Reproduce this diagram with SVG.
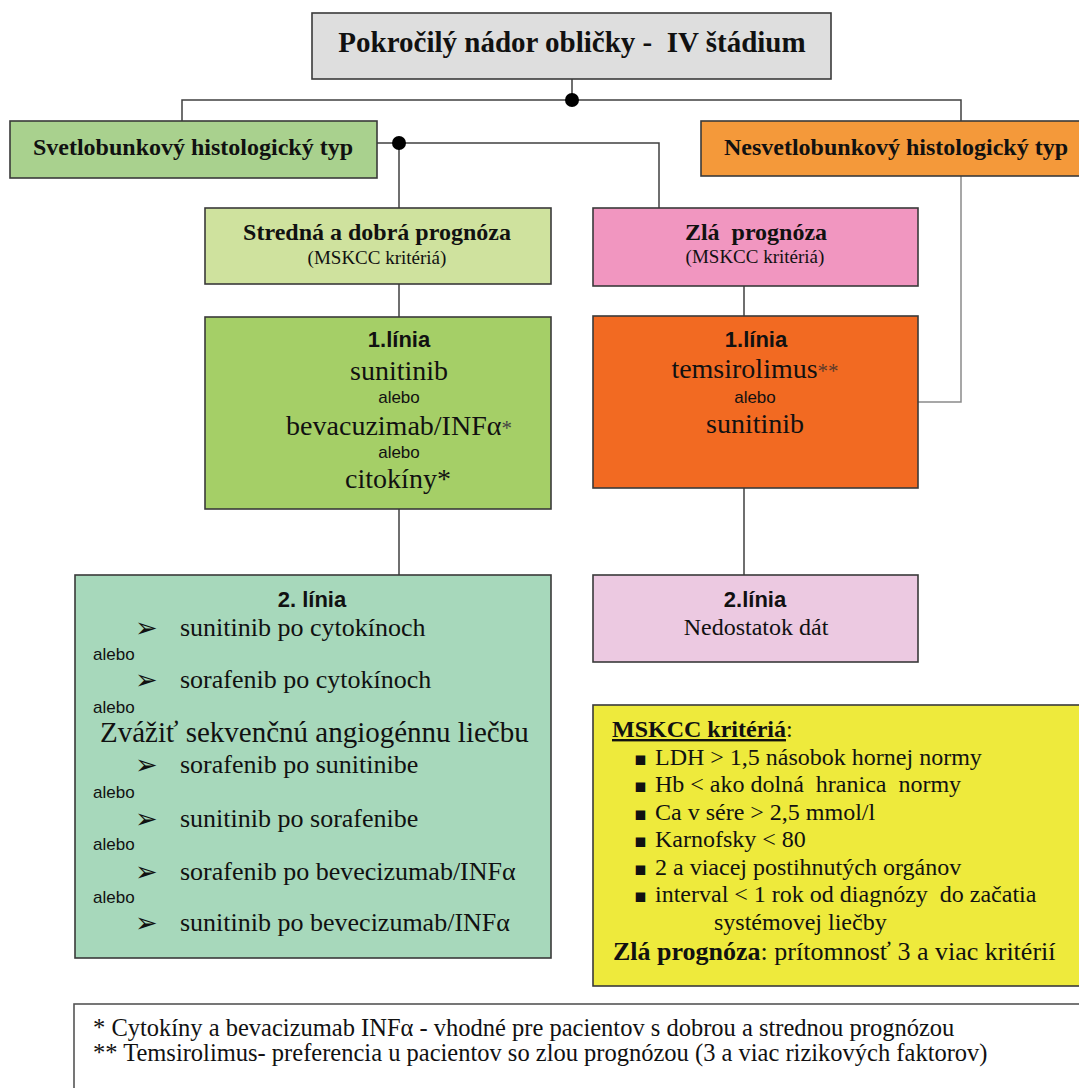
<svg xmlns="http://www.w3.org/2000/svg" width="1079" height="1088" viewBox="0 0 1079 1088">
<style>
.box{stroke:#3a3a3a;stroke-width:1.6}
.ln{fill:none;stroke:#404040;stroke-width:1.5}
.lg{fill:none;stroke:#8a8a8a;stroke-width:1.5}
.s{font-family:"Liberation Serif","Times New Roman","DejaVu Serif",serif;fill:#111}
.sb{font-family:"Liberation Serif","Times New Roman","DejaVu Serif",serif;font-weight:bold;fill:#111}
.a{font-family:"Liberation Sans",Arial,sans-serif;fill:#111}
.ab{font-family:"Liberation Sans",Arial,sans-serif;font-weight:bold;fill:#111}
.sym{font-family:"DejaVu Sans",sans-serif;fill:#111}
.c{text-anchor:middle}
</style>
<rect width="1079" height="1088" fill="#ffffff"/>
<g id="connectors">
<path class="ln" d="M572 79V100M182 121V100H961V121"/>
<circle cx="572" cy="100" r="7" fill="#000"/>
<path class="ln" d="M377 143H659V208M399 143V208"/>
<circle cx="399" cy="143" r="7" fill="#000"/>
<path class="ln" d="M399 284V317M399 509V575"/>
<path class="ln" d="M744 286V316M744 488V575"/>
<path class="lg" d="M961 176V402H918"/>
</g>
<g id="node-top">
<rect class="box" x="312" y="13" width="519" height="66" fill="#dedede"/>
<text class="sb c" x="572" y="52" font-size="29" xml:space="preserve">Pokročilý nádor obličky -  IV štádium</text>
</g>
<g id="node-svetlo">
<rect class="box" x="10" y="121" width="367" height="57" fill="#a9d18e"/>
<text class="sb c" x="193" y="155" font-size="24">Svetlobunkový histologický typ</text>
</g>
<g id="node-nesvetlo">
<rect class="box" x="701" y="121" width="384" height="55" fill="#f4993a"/>
<text class="sb c" x="896" y="155" font-size="24">Nesvetlobunkový histologický typ</text>
</g>
<g id="node-stredna">
<rect class="box" x="205" y="208" width="346" height="76" fill="#cfe29e"/>
<text class="sb c" x="377" y="240" font-size="24">Stredná a dobrá prognóza</text>
<text class="s c" x="377" y="264" font-size="19">(MSKCC kritériá)</text>
</g>
<g id="node-zla">
<rect class="box" x="593" y="208" width="325" height="78" fill="#f196c0"/>
<text class="sb c" x="756" y="240" font-size="24" xml:space="preserve">Zlá  prognóza</text>
<text class="s c" x="755" y="263" font-size="19">(MSKCC kritériá)</text>
</g>
<g id="node-linia1-green">
<rect class="box" x="205" y="317" width="346" height="192" fill="#a5cf67"/>
<text class="ab c" x="399" y="347" font-size="22">1.línia</text>
<text class="s c" x="399" y="380" font-size="28">sunitinib</text>
<text class="a c" x="399" y="403" font-size="17">alebo</text>
<text class="s c" x="399" y="435" font-size="28">bevacuzimab/INFα<tspan font-size="21" fill="#444">*</tspan></text>
<text class="a c" x="399" y="458" font-size="17">alebo</text>
<text class="s c" x="398" y="488" font-size="28">citokíny*</text>
</g>
<g id="node-linia1-orange">
<rect class="box" x="593" y="316" width="325" height="172" fill="#f26a22"/>
<text class="ab c" x="756" y="347" font-size="22">1.línia</text>
<text class="s c" x="755" y="378" font-size="28">temsirolimus<tspan font-size="21" fill="#5a3a2a">**</tspan></text>
<text class="a c" x="755" y="403" font-size="17">alebo</text>
<text class="s c" x="755" y="433" font-size="28">sunitinib</text>
</g>
<g id="node-linia2-green">
<rect class="box" x="75" y="575" width="476" height="383" fill="#a7d8bb"/>
<text class="ab c" x="312" y="607" font-size="22">2. línia</text>
<g class="sym" font-size="27">
<text x="135" y="637">➢</text>
<text x="135" y="689">➢</text>
<text x="135" y="774">➢</text>
<text x="135" y="828">➢</text>
<text x="135" y="881">➢</text>
<text x="135" y="932">➢</text>
</g>
<g class="s" font-size="26">
<text x="180" y="636">sunitinib po cytokínoch</text>
<text x="180" y="688">sorafenib po cytokínoch</text>
<text x="180" y="773">sorafenib po sunitinibe</text>
<text x="180" y="827">sunitinib po sorafenibe</text>
<text x="180" y="880">sorafenib po bevecizumab/INFα</text>
<text x="180" y="931">sunitinib po bevecizumab/INFα</text>
</g>
<text class="s" x="100" y="742" font-size="29">Zvážiť sekvenčnú angiogénnu liečbu</text>
<g class="a" font-size="17">
<text x="93" y="660">alebo</text>
<text x="93" y="713">alebo</text>
<text x="93" y="798">alebo</text>
<text x="93" y="850">alebo</text>
<text x="93" y="903">alebo</text>
</g>
</g>
<g id="node-linia2-pink">
<rect class="box" x="593" y="575" width="325" height="87" fill="#ecc9e1"/>
<text class="ab c" x="755" y="607" font-size="22">2.línia</text>
<text class="s c" x="756" y="635" font-size="24">Nedostatok dát</text>
</g>
<g id="node-mskcc">
<rect class="box" x="593" y="705" width="495" height="281" fill="#eeea3c"/>
<text class="s" x="612" y="737" font-size="24"><tspan font-weight="bold" text-decoration="underline">MSKCC kritériá</tspan>:</text>
<g class="sym" font-size="19">
<text x="634" y="765">▪</text>
<text x="634" y="792">▪</text>
<text x="634" y="820">▪</text>
<text x="634" y="847">▪</text>
<text x="634" y="875">▪</text>
<text x="634" y="902">▪</text>
</g>
<g class="s" font-size="24">
<text x="655" y="765">LDH &gt; 1,5 násobok hornej normy</text>
<text x="655" y="792" xml:space="preserve">Hb &lt; ako dolná  hranica  normy</text>
<text x="655" y="820">Ca v sére &gt; 2,5 mmol/l</text>
<text x="655" y="847">Karnofsky &lt; 80</text>
<text x="655" y="875">2 a viacej postihnutých orgánov</text>
<text x="655" y="902" xml:space="preserve">interval &lt; 1 rok od diagnózy  do začatia</text>
<text x="714" y="930">systémovej liečby</text>
</g>
<text class="s" x="613" y="960" font-size="26"><tspan font-weight="bold">Zlá prognóza</tspan>: prítomnosť 3 a viac kritérií</text>
</g>
<g id="node-footnote">
<rect x="74" y="1004" width="1020" height="100" fill="#ffffff" stroke="#555" stroke-width="1.6"/>
<text class="s" x="93" y="1036" font-size="24.5">* Cytokíny a bevacizumab INFα - vhodné pre pacientov s dobrou a strednou prognózou</text>
<text class="s" x="93" y="1061" font-size="24.5">** Temsirolimus- preferencia u pacientov so zlou prognózou (3 a viac rizikových faktorov)</text>
</g>
</svg>
